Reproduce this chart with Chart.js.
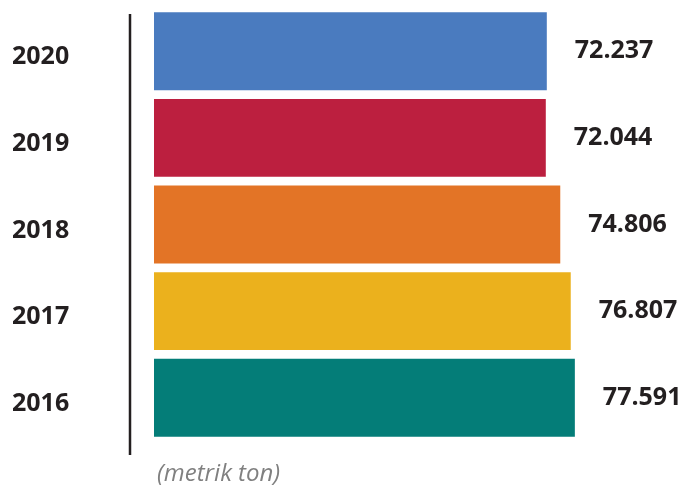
<!DOCTYPE html>
<html>
<head>
<meta charset="utf-8">
<script src="https://cdn.jsdelivr.net/npm/chart.js@4/dist/chart.umd.min.js"></script>
<style>
    body { margin: 0; background: #fff; }
    #wrap { width: 691px; height: 487px; }
</style>
</head>
<body>
<div id="wrap"><canvas id="chartPicture" width="691" height="487"></canvas></div>
<script>
const years = ["2020", "2019", "2018", "2017", "2016"];
const tonnes = [72.237, 72.044, 74.806, 76.807, 77.591];
const valueLabels = ["72.237", "72.044", "74.806", "76.807", "77.591"];
const barColors = ["#4a7bbf", "#bc1f3f", "#e37426", "#ebb11d", "#047d78"];
const unitText = "(metrik ton)";

const axisMin = -2.75;
const axisMax = 99;
const textColor = "#231f20";

// year labels, left line, value labels, unit note
const labelPlugin =
{
    id: "labelPlugin",
    afterDatasetsDraw(chart)
    {
        const ctx = chart.ctx;
        const yScale = chart.scales.y;
        ctx.save();

        ctx.strokeStyle = textColor;
        ctx.lineWidth = 2.5;
        ctx.beginPath();
        ctx.moveTo(130, 14);
        ctx.lineTo(130, 455);
        ctx.stroke();

        ctx.fillStyle = textColor;
        ctx.font = "bold 25px 'Open Sans'";
        ctx.textBaseline = "middle";
        ctx.textAlign = "left";
        years.forEach((year, i) =>
        {
            ctx.fillText(year, 12, yScale.getPixelForValue(i) + 6);
        });

        const meta = chart.getDatasetMeta(0);
        meta.data.forEach((bar, i) =>
        {
            ctx.fillText(valueLabels[i], bar.x + 28, bar.y);
        });

        ctx.fillStyle = "#808080";
        ctx.font = "italic 24px 'Open Sans'";
        ctx.fillText(unitText, 157, 474);
        ctx.restore();
    }
};

const context = document.getElementById("chartPicture");

const configObject =
{
    type: "bar",
    data:
    {
        labels: years,
        datasets:
        [
            {
                label: "Metrik ton",
                data: tonnes,
                base: axisMin,
                backgroundColor: barColors,
                borderWidth: 0,
                barPercentage: 0.9,
                categoryPercentage: 1,
            }
        ],
    },
    options:
    {
        indexAxis: "y",
        responsive: false,
        animation: false,
        layout:
        {
            padding: { left: 154, right: 4, top: 8, bottom: 46 },
        },
        plugins:
        {
            legend: { display: false },
            tooltip: { enabled: false },
        },
        scales:
        {
            x:
            {
                display: false,
                min: axisMin,
                max: axisMax,
            },
            y:
            {
                display: false,
            }
        }
    },
    plugins: [labelPlugin],
};

const myChart = new Chart(context, configObject);
</script>
</body>
</html>
